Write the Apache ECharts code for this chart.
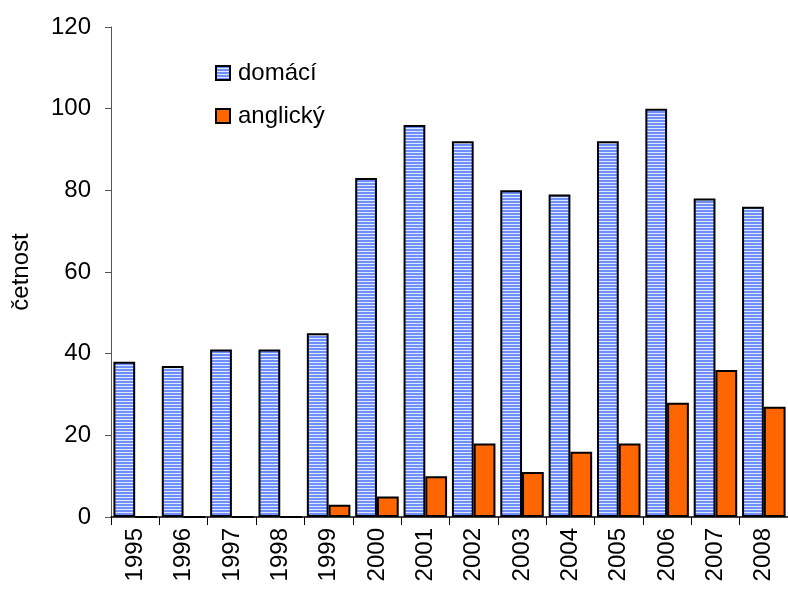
<!DOCTYPE html>
<html>
<head>
<meta charset="utf-8">
<script src="https://cdn.jsdelivr.net/npm/echarts@6/dist/echarts.min.js"></script>
<style>html,body{margin:0;padding:0;background:#fff}#c{width:788px;height:591px}</style>
</head>
<body>
<div id="c"></div>
<script>
var years = ['1995','1996','1997','1998','1999','2000','2001','2002','2003','2004','2005','2006','2007','2008'];
var domaci = [38, 37, 41, 41, 45, 83, 96, 92, 80, 79, 92, 100, 78, 76];
var anglicky = [0, 0, 0, 0, 3, 5, 10, 18, 11, 16, 18, 28, 36, 27];
var yTicks = [0, 20, 40, 60, 80, 100, 120];

var pc = document.createElement('canvas');
pc.width = 4; pc.height = 3;
var ctx = pc.getContext('2d');
ctx.fillStyle = '#6f8fff'; ctx.fillRect(0, 0, 4, 2);
ctx.fillStyle = '#dfe7ff'; ctx.fillRect(0, 2, 4, 1);
var stripe = {image: pc, repeat: 'repeat'};

var font = 'Liberation Sans, Arial, sans-serif';
var chart = echarts.init(document.getElementById('c'), null, {renderer: 'canvas'});
chart.setOption({
  animation: false,
  backgroundColor: '#fff',
  grid: {left: 111, right: -7, top: 27, bottom: 74, containLabel: false},
  legend: {
    orient: 'vertical', left: 210, top: 56, itemWidth: 14, itemHeight: 14, itemGap: 19,
    icon: 'rect',
    textStyle: {fontFamily: font, fontSize: 24, color: '#000', padding: [0, 0, 0, 3]},
    data: ['domácí', 'anglický']
  },
  xAxis: {
    type: 'category', data: years, boundaryGap: true,
    axisLine: {lineStyle: {color: '#000', width: 1.5}},
    axisTick: {show: true, length: 8, lineStyle: {color: '#000'}},
    axisLabel: {rotate: 90, fontFamily: font, fontSize: 24, color: '#000', margin: 11, interval: 0}
  },
  yAxis: {
    type: 'value', min: yTicks[0], max: yTicks[yTicks.length - 1], interval: 20,
    name: 'četnost', nameLocation: 'middle', nameGap: 78,
    nameTextStyle: {fontFamily: font, fontSize: 24, color: '#000'},
    splitLine: {show: false},
    axisLine: {show: true, lineStyle: {color: '#555', width: 1}},
    axisTick: {show: true, inside: false, length: 6, lineStyle: {color: '#555'}},
    axisLabel: {fontFamily: font, fontSize: 24, color: '#000', margin: 20}
  },
  series: [
    {name: 'domácí', type: 'bar', data: domaci, barGap: '0%', barCategoryGap: '10%',
     itemStyle: {color: stripe, borderColor: '#000', borderWidth: 2}},
    {name: 'anglický', type: 'bar', data: anglicky, barGap: '0%', barCategoryGap: '10%',
     itemStyle: {color: '#ff6600', borderColor: '#000', borderWidth: 2}}
  ]
});
</script>
</body>
</html>
